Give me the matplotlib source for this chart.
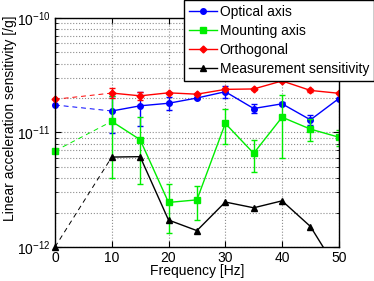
import matplotlib
matplotlib.use('Agg')
import matplotlib.pyplot as plt
import matplotlib.ticker as mticker

plt.rcParams['font.family'] = ['Liberation Sans', 'DejaVu Sans']
plt.rcParams['mathtext.fontset'] = 'custom'
plt.rcParams['mathtext.rm'] = 'Liberation Sans'
plt.rcParams['mathtext.it'] = 'Liberation Sans:italic'

freq = [0, 10, 15, 20, 25, 30, 35, 40, 45, 50]

optical = [1.74e-11, 1.54e-11, 1.71e-11, 1.80e-11, 2.00e-11, 2.27e-11, 1.62e-11, 1.78e-11, 1.29e-11, 1.98e-11]
optical_err = [0, 0.55e-11, 0.56e-11, 0.23e-11, 0.05e-11, 0.27e-11, 0.15e-11, 0.05e-11, 0.12e-11, 0.04e-11]

mounting = [6.9e-12, 1.25e-11, 8.65e-12, 2.45e-12, 2.58e-12, 1.2e-11, 6.58e-12, 1.36e-11, 1.07e-11, 9.1e-12]
mounting_err = [0, 0.85e-11, 0.51e-11, 1.13e-12, 0.85e-12, 0.4e-11, 2.1e-12, 0.76e-11, 2.3e-12, 1.5e-12]

orthogonal = [1.95e-11, 2.21e-11, 2.09e-11, 2.22e-11, 2.16e-11, 2.38e-11, 2.40e-11, 2.82e-11, 2.33e-11, 2.20e-11]
orthogonal_err = [0, 0.22e-11, 0.15e-11, 0.06e-11, 0.05e-11, 0.05e-11, 0.05e-11, 0.08e-11, 0.05e-11, 0.05e-11]

measurement = [1.0e-12, 6.1e-12, 6.15e-12, 1.72e-12, 1.39e-12, 2.47e-12, 2.2e-12, 2.53e-12, 1.51e-12, 6.0e-13]

labels = ['Optical axis', 'Mounting axis', 'Orthogonal', 'Measurement sensitivity']
yticks = [1e-12, 1e-11, 1e-10]

fig = plt.figure(figsize=(3.74, 2.81), dpi=100)
ax = fig.add_axes([0.147, 0.121, 0.759, 0.815])

series = [
    (optical, optical_err, '#0000ff', 'o', 4),
    (mounting, mounting_err, '#00ee00', 's', 4),
    (orthogonal, orthogonal_err, '#ff0000', 'D', 3.5),
    (measurement, None, 'black', '^', 4.5),
]

handles = []
for (vals, err, col, mk, ms), lab in zip(series, labels):
    # dashed segment from 0 Hz to the first real measurement
    ax.plot(freq[:2], vals[:2], color=col, linestyle=(0, (5, 4)), linewidth=0.7)
    ax.plot(freq[:1], vals[:1], color=col, marker=mk, markersize=ms, linestyle='none', clip_on=False)
    if err is not None:
        ax.errorbar(freq[1:], vals[1:], yerr=err[1:], color=col, linestyle='none',
                    elinewidth=1, capsize=2, capthick=1)
    h, = ax.plot(freq[1:], vals[1:], color=col, marker=mk, markersize=ms, linewidth=1, label=lab)
    handles.append(h)

ax.set_yscale('log')
ax.set_xlim(0, 50)
ax.set_ylim(1e-12, 1e-10)
ax.set_xticks([0, 10, 20, 30, 40, 50])
ax.set_yticks(yticks)
ax.yaxis.set_minor_locator(mticker.LogLocator(base=10, subs=range(2, 10), numticks=20))
ax.yaxis.set_minor_formatter(mticker.NullFormatter())
ax.tick_params(which='both', direction='in', top=True, right=True, labelsize=10)
ax.tick_params(which='major', length=4, pad=3)
ax.tick_params(which='minor', length=2)
ax.grid(True, which='major', linestyle=':', color='0.55', linewidth=0.8)
ax.grid(True, which='minor', axis='y', linestyle=':', color='0.55', linewidth=0.8)
for s in ax.spines.values():
    s.set_linewidth(1)

ax.set_xlabel('Frequency [Hz]', fontsize=10, labelpad=-1)
ax.set_ylabel('Linear acceleration sensitivity [/g]', fontsize=10)
ax.yaxis.set_label_coords(-0.134, 0.563)

leg = fig.legend(handles=handles, loc='upper right', bbox_to_anchor=(1.0, 1.0),
                 bbox_transform=fig.transFigure, fontsize=10, fancybox=False,
                 framealpha=1, edgecolor='black', handlelength=2.0,
                 borderpad=0.35, labelspacing=0.36, handletextpad=0.2, borderaxespad=0)
leg.get_frame().set_linewidth(1)

fig.savefig('out.png', dpi=100)
